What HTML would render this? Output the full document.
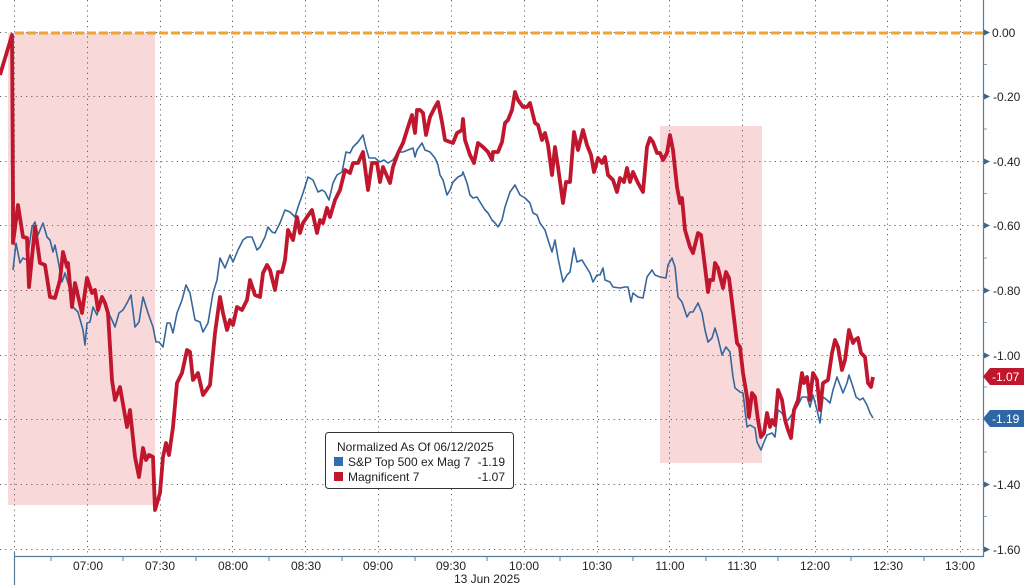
<!DOCTYPE html>
<html>
<head>
<meta charset="utf-8">
<style>
  html,body{margin:0;padding:0;background:#fff;}
  svg{display:block;}
  text{font-family:"Liberation Sans",sans-serif;font-size:12px;fill:#222;}
</style>
</head>
<body>
<svg width="1024" height="585" viewBox="0 0 1024 585" xmlns="http://www.w3.org/2000/svg">
  <rect x="0" y="0" width="1024" height="585" fill="#fff"/>
  <!-- shaded regions -->
  <rect x="8" y="33" width="147" height="472" fill="#f8d8d8"/>
  <rect x="660" y="126" width="102" height="337" fill="#f8d8d8"/>

  <!-- grid -->
  <g stroke="#666" stroke-width="1" stroke-dasharray="1.2 4" fill="none">
    <line x1="14.5" y1="0" x2="14.5" y2="556"/>
    <line x1="87.5" y1="0" x2="87.5" y2="556"/>
    <line x1="160.5" y1="0" x2="160.5" y2="556"/>
    <line x1="232.5" y1="0" x2="232.5" y2="556"/>
    <line x1="305.5" y1="0" x2="305.5" y2="556"/>
    <line x1="378.5" y1="0" x2="378.5" y2="556"/>
    <line x1="451.5" y1="0" x2="451.5" y2="556"/>
    <line x1="524.5" y1="0" x2="524.5" y2="556"/>
    <line x1="597.5" y1="0" x2="597.5" y2="556"/>
    <line x1="669.5" y1="0" x2="669.5" y2="556"/>
    <line x1="742.5" y1="0" x2="742.5" y2="556"/>
    <line x1="815.5" y1="0" x2="815.5" y2="556"/>
    <line x1="887.5" y1="0" x2="887.5" y2="556"/>
    <line x1="960.5" y1="0" x2="960.5" y2="556"/>
    <line x1="0" y1="32.5" x2="983" y2="32.5"/>
    <line x1="0" y1="96.5" x2="983" y2="96.5"/>
    <line x1="0" y1="161.5" x2="983" y2="161.5"/>
    <line x1="0" y1="225.5" x2="983" y2="225.5"/>
    <line x1="0" y1="290.5" x2="983" y2="290.5"/>
    <line x1="0" y1="355.5" x2="983" y2="355.5"/>
    <line x1="0" y1="419.5" x2="983" y2="419.5"/>
    <line x1="0" y1="484.5" x2="983" y2="484.5"/>
    <line x1="0" y1="549.5" x2="983" y2="549.5"/>
  </g>

  <!-- orange zero line -->
  <line x1="15" y1="33" x2="983" y2="33" stroke="#f0a232" stroke-width="3" stroke-dasharray="9 3"/>

  <!-- blue series -->
  <polyline fill="none" stroke="#36679c" stroke-width="1.6" stroke-linejoin="round" points="13,270 16,243 20,263 23,258 27,260 32,227 35,222 38,235 43,223 47,237 50,240 53,252 55,245 58,260 62,282 65,273 70,290 73,307 78,312 83,330 85,345 87,323 90,322 93,307 97,315 102,297 107,310 112,320 115,327 119,313 123,310 127,303 131,295 135,327 139,322 143,297 148,313 153,327 156,342 159,342 163,347 167,323 170,323 173,333 177,313 182,300 186,285 190,293 195,320 200,322 203,332 208,323 213,293 217,280 220,258 225,268 230,255 233,262 238,250 243,240 247,237 252,237 257,250 260,247 265,237 268,227 272,232 275,233 280,223 285,210 290,212 295,217 298,207 303,193 308,177 313,180 318,192 322,190 325,192 329,200 333,183 337,175 342,172 346,152 350,153 353,147 358,142 363,135 366,148 369,158 375,158 380,162 384,160 388,163 393,160 398,152 403,152 408,150 413,148 415,157 417,150 422,143 425,150 430,152 435,158 438,165 440,175 443,180 447,195 450,190 453,182 458,177 462,175 463,172 467,183 470,195 473,198 477,197 480,202 485,210 488,213 492,220 495,223 498,227 502,220 505,207 510,192 515,185 520,195 525,198 530,203 533,213 537,215 540,223 545,230 548,240 552,252 555,240 558,258 563,282 567,275 570,272 574,248 577,262 582,260 585,265 590,273 593,282 597,275 600,275 603,268 605,280 610,282 613,287 620,288 625,287 628,287 631,302 633,293 638,297 643,298 647,277 652,270 655,275 660,277 666,278 668,265 672,258 675,267 678,297 682,302 687,317 690,312 693,312 698,303 702,313 705,330 708,342 712,338 715,328 718,338 722,355 726,347 730,352 733,377 735,388 740,392 743,393 747,427 750,425 755,428 757,442 761,450 764,442 767,435 772,433 775,437 778,410 782,413 785,420 788,420 793,413 798,405 802,397 807,397 810,407 813,395 817,410 820,423 823,397 827,400 830,403 833,390 837,377 840,385 843,393 847,383 849,375 853,387 856,397 860,400 863,398 867,405 870,413 873,418"/>

  <!-- red series -->
  <polyline fill="none" stroke="#c0162e" stroke-width="3.8" stroke-linejoin="round" points="0,75 12,35 13,200 13,243 18,205 23,237 27,238 29,287 35,227 40,263 45,265 50,297 55,298 60,280 63,252 67,267 68,263 72,307 75,283 82,313 87,278 92,293 95,290 98,310 102,297 105,303 108,313 112,380 115,400 120,387 127,427 130,410 135,457 139,477 143,448 146,460 149,455 153,457 155,510 160,493 163,457 166,443 169,455 173,427 177,383 182,373 187,350 190,352 193,380 198,373 203,395 210,385 215,333 220,297 223,313 227,330 230,320 233,325 237,307 242,310 247,300 250,280 255,295 260,297 263,273 267,265 270,270 275,290 278,272 282,272 285,260 288,230 293,240 297,217 300,233 303,223 307,217 312,210 317,233 320,220 323,223 327,208 330,217 335,200 340,190 345,170 350,173 353,163 358,163 363,152 368,190 372,163 377,163 380,182 383,167 390,183 393,167 398,153 403,143 408,127 412,115 415,133 417,110 420,110 423,113 426,135 430,117 435,107 438,102 442,122 445,140 450,142 453,143 457,133 462,130 463,119 465,140 470,155 474,163 478,143 483,147 488,152 492,160 493,152 498,152 502,142 505,123 508,120 512,110 515,92 518,100 523,107 527,107 530,103 535,123 538,125 542,140 545,133 548,145 552,175 555,147 558,167 563,203 566,182 570,182 574,132 578,150 583,130 587,145 591,155 594,172 598,158 602,163 605,157 608,175 613,180 617,192 620,178 624,182 627,168 630,182 633,172 638,183 643,192 647,147 650,138 653,142 657,153 660,153 663,160 667,153 670,135 673,150 677,187 680,203 682,198 685,230 690,247 693,253 698,233 701,235 705,267 708,292 710,280 713,280 715,263 718,268 723,288 726,272 729,278 733,310 737,343 740,347 743,373 747,397 749,417 752,393 755,397 758,420 761,437 764,433 767,413 770,427 772,420 775,425 778,390 782,400 785,420 788,430 791,438 794,410 798,400 802,373 804,383 807,377 810,400 813,373 817,380 820,410 823,383 828,380 832,353 835,340 838,347 842,370 845,360 849,330 853,343 855,340 858,338 861,353 865,357 868,383 871,387 873,377"/>

  <!-- axes -->
  <line x1="983.5" y1="0" x2="983.5" y2="557" stroke="#5c7d98" stroke-width="1.2"/>
  <line x1="14" y1="556.5" x2="984" y2="556.5" stroke="#5c7d98" stroke-width="1.2"/>
  <line x1="14.5" y1="552" x2="14.5" y2="585" stroke="#5c7d98" stroke-width="1.2"/>

  <!-- bottom minor ticks -->
  <g stroke="#5c7d98" stroke-width="1">
    <line x1="51" y1="556" x2="51" y2="561"/>
    <line x1="123" y1="556" x2="123" y2="561"/>
    <line x1="196" y1="556" x2="196" y2="561"/>
    <line x1="269" y1="556" x2="269" y2="561"/>
    <line x1="342" y1="556" x2="342" y2="561"/>
    <line x1="415" y1="556" x2="415" y2="561"/>
    <line x1="487" y1="556" x2="487" y2="561"/>
    <line x1="560" y1="556" x2="560" y2="561"/>
    <line x1="633" y1="556" x2="633" y2="561"/>
    <line x1="706" y1="556" x2="706" y2="561"/>
    <line x1="778" y1="556" x2="778" y2="561"/>
    <line x1="851" y1="556" x2="851" y2="561"/>
    <line x1="924" y1="556" x2="924" y2="561"/>
  </g>

  <!-- right minor ticks -->
  <g stroke="#8aa0b2" stroke-width="1">
    <line x1="984" y1="64.5" x2="987" y2="64.5"/>
    <line x1="984" y1="129" x2="987" y2="129"/>
    <line x1="984" y1="193.5" x2="987" y2="193.5"/>
    <line x1="984" y1="258" x2="987" y2="258"/>
    <line x1="984" y1="322.5" x2="987" y2="322.5"/>
    <line x1="984" y1="387" x2="987" y2="387"/>
    <line x1="984" y1="452" x2="987" y2="452"/>
    <line x1="984" y1="516.5" x2="987" y2="516.5"/>
  </g>

  <!-- right major tick arrows -->
  <g fill="#3d6688">
    <polygon points="984,29.5 990,32.5 984,35.5"/>
    <polygon points="984,93.5 990,96.5 984,99.5"/>
    <polygon points="984,158.5 990,161.5 984,164.5"/>
    <polygon points="984,222.5 990,225.5 984,228.5"/>
    <polygon points="984,287.5 990,290.5 984,293.5"/>
    <polygon points="984,352.5 990,355.5 984,358.5"/>
    <polygon points="984,481.5 990,484.5 984,487.5"/>
    <polygon points="984,546.5 990,549.5 984,552.5"/>
  </g>

  <!-- right labels -->
  <g>
    <text x="992" y="37">0.00</text>
    <text x="993" y="101">-0.20</text>
    <text x="993" y="166">-0.40</text>
    <text x="993" y="230">-0.60</text>
    <text x="993" y="295">-0.80</text>
    <text x="993" y="360">-1.00</text>
    <text x="993" y="489">-1.40</text>
    <text x="993" y="554">-1.60</text>
  </g>

  <!-- value tags -->
  <polygon points="983,376.5 990,368 1024,368 1024,385 990,385" fill="#c0162e"/>
  <text x="992" y="381" style="fill:#fff">-1.07</text>
  <polygon points="983,418.5 990,410 1024,410 1024,427 990,427" fill="#2e67a3"/>
  <text x="992" y="423" style="fill:#fff">-1.19</text>

  <!-- bottom labels -->
  <g text-anchor="middle">
    <text x="88" y="570">07:00</text>
    <text x="160" y="570">07:30</text>
    <text x="233" y="570">08:00</text>
    <text x="306" y="570">08:30</text>
    <text x="378" y="570">09:00</text>
    <text x="451" y="570">09:30</text>
    <text x="524" y="570">10:00</text>
    <text x="597" y="570">10:30</text>
    <text x="670" y="570">11:00</text>
    <text x="742" y="570">11:30</text>
    <text x="815" y="570">12:00</text>
    <text x="888" y="570">12:30</text>
    <text x="960" y="570">13:00</text>
  </g>
  <text x="520" y="583" text-anchor="end">13 Jun 2025</text>

  <!-- legend -->
  <rect x="325.5" y="432.5" width="188" height="56" rx="3" ry="3" fill="#fff" stroke="#333" stroke-width="1"/>
  <text x="337" y="451">Normalized As Of 06/12/2025</text>
  <rect x="334" y="457" width="9" height="9" fill="#2f6db5"/>
  <text x="348" y="466">S&amp;P Top 500 ex Mag 7</text>
  <text x="505" y="466" text-anchor="end">-1.19</text>
  <rect x="334" y="472" width="9" height="9" fill="#c0162e"/>
  <text x="348" y="481">Magnificent 7</text>
  <text x="505" y="481" text-anchor="end">-1.07</text>
</svg>
</body>
</html>
